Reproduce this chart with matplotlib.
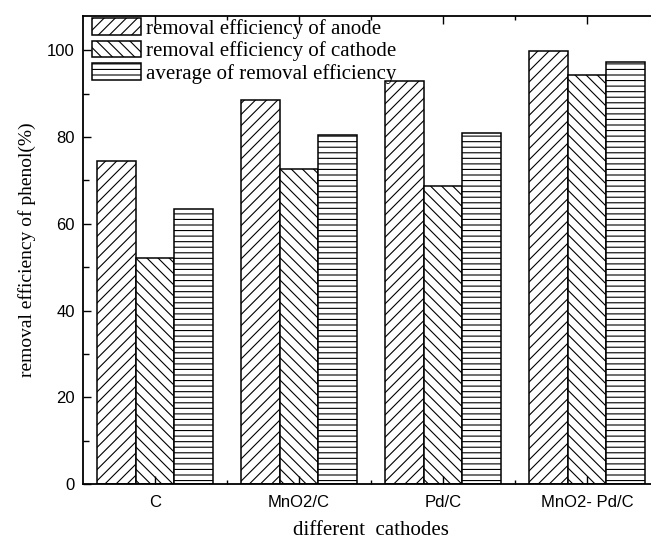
import matplotlib
matplotlib.use('Agg')
import matplotlib.pyplot as plt
import numpy as np

# data
cathodes = ['C', 'MnO2/C', 'Pd/C', 'MnO2- Pd/C']
anode = [74.6, 88.6, 93.0, 99.9]
cathode = [52.2, 72.7, 68.8, 94.4]
average = [63.4, 80.5, 80.9, 97.3]

plt.rcParams['hatch.linewidth'] = 0.8

fig = plt.figure(figsize=(6.51, 5.45), dpi=100)
# right edge sits past the figure border: the reference is cropped there
ax = fig.add_axes([83/651, 1 - 484/545, 576/651, 468.3/545])

x = np.arange(len(cathodes))
w = 0.8 / 3
series = [(anode, '///', 'removal efficiency of anode'),
          (cathode, '\\\\\\', 'removal efficiency of cathode'),
          (average, '---', 'average of removal efficiency')]
for i, (vals, hatch, lab) in enumerate(series):
    ax.bar(x + (i - 1) * w, vals, w, facecolor='white', edgecolor='black',
           linewidth=1.1, hatch=hatch, label=lab)

ax.set_xlim(-0.5, 3.5)
ax.set_ylim(0, 108)
ax.set_xticks(x)
ax.set_xticklabels(cathodes, fontfamily='Liberation Sans', fontsize=12)
ax.set_xticks(x[:-1] + 0.5, minor=True)
ax.set_yticks([0, 20, 40, 60, 80, 100])
ax.set_yticks([10, 30, 50, 70, 90], minor=True)
for t in ax.get_yticklabels():
    t.set_fontfamily('Liberation Sans')
    t.set_fontsize(12)
ax.tick_params(axis='both', which='both', direction='in', top=True, width=1)
ax.tick_params(axis='both', which='major', length=6, pad=6)
ax.tick_params(axis='x', which='major', pad=8)
ax.tick_params(axis='both', which='minor', length=4)
ax.tick_params(axis='x', which='minor', length=3)
for s in ax.spines.values():
    s.set_linewidth(1.3)

ax.set_xlabel('different  cathodes', fontfamily='Liberation Serif', fontsize=15, labelpad=8)
ax.set_ylabel('removal efficiency of phenol(%)', fontfamily='Liberation Serif', fontsize=14, labelpad=8)

leg = ax.legend(loc='upper left', bbox_to_anchor=(0.0156, 0.995), frameon=False,
                prop={'family': 'Liberation Serif', 'size': 15},
                handlelength=2.35, handleheight=0.85, labelspacing=0.1,
                handletextpad=0.25, borderpad=0, borderaxespad=0)
leg.set_zorder(5)

fig.savefig('out.png', dpi=100)
